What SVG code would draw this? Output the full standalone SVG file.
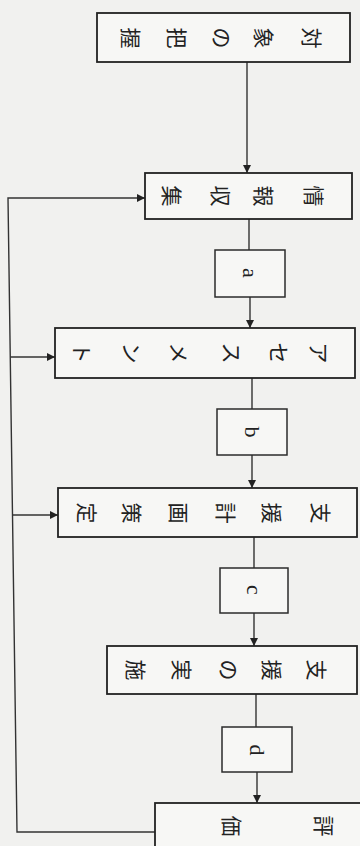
<svg xmlns="http://www.w3.org/2000/svg" width="360" height="846" viewBox="0 0 360 846">
<style>
.box{fill:#f7f7f5;stroke:#222;stroke-width:1.8}
.lbl{fill:#f7f7f5;stroke:#2b2b2b;stroke-width:1.5}
.ln{fill:none;stroke:#333;stroke-width:1.4}
.j{font-family:"Noto Sans CJK JP","Noto Sans CJK SC",sans-serif;font-size:21px;fill:#222;text-anchor:middle;dominant-baseline:central}
.l{font-family:"Liberation Serif",serif;font-size:22px;fill:#222;text-anchor:middle;dominant-baseline:central}
</style>
<defs>
<marker id="ah" viewBox="0 0 10 10" refX="10" refY="5" markerWidth="9" markerHeight="8" markerUnits="userSpaceOnUse" orient="auto">
<path d="M0,0 L10,5 L0,10 z" fill="#222"/>
</marker>
</defs>
<rect width="360" height="846" fill="#f1f1ef"/>
<g id="connectors">
<line class="ln" x1="247" y1="62" x2="247" y2="173" marker-end="url(#ah)"/>
<line class="ln" x1="249" y1="219" x2="249" y2="250"/>
<line class="ln" x1="250" y1="297" x2="250" y2="328" marker-end="url(#ah)"/>
<line class="ln" x1="252" y1="378" x2="252" y2="409"/>
<line class="ln" x1="252" y1="455" x2="252" y2="488" marker-end="url(#ah)"/>
<line class="ln" x1="254" y1="537" x2="254" y2="568"/>
<line class="ln" x1="254" y1="613" x2="254" y2="646" marker-end="url(#ah)"/>
<line class="ln" x1="256" y1="694" x2="256" y2="727"/>
<line class="ln" x1="257" y1="772" x2="257" y2="803" marker-end="url(#ah)"/>
<polyline class="ln" points="155,832 17,832 8,198 145,198" marker-end="url(#ah)"/>
<line class="ln" x1="10.3" y1="357" x2="55" y2="357" marker-end="url(#ah)"/>
<line class="ln" x1="12.5" y1="515" x2="58" y2="515" marker-end="url(#ah)"/>
</g>
<g id="n1">
<rect class="box" x="97" y="13" width="253" height="49"/>
<text class="j" x="313" y="38" transform="rotate(90 313 38)">対</text>
<text class="j" x="265" y="38" transform="rotate(90 265 38)">象</text>
<text class="j" x="223" y="38" transform="rotate(90 223 38)">の</text>
<text class="j" x="178" y="38" transform="rotate(90 178 38)">把</text>
<text class="j" x="132" y="38" transform="rotate(90 132 38)">握</text>
</g>
<g id="n2">
<rect class="box" x="145" y="173" width="207" height="46"/>
<text class="j" x="315" y="196" transform="rotate(90 315 196)">情</text>
<text class="j" x="265" y="196" transform="rotate(90 265 196)">報</text>
<text class="j" x="222" y="196" transform="rotate(90 222 196)">収</text>
<text class="j" x="173" y="196" transform="rotate(90 173 196)">集</text>
</g>
<g id="na">
<rect class="lbl" x="215" y="250" width="70" height="47"/>
<text class="l" x="250" y="273" transform="rotate(90 250 273)">a</text>
</g>
<g id="n3">
<rect class="box" x="55" y="328" width="300" height="50"/>
<text class="j" x="320" y="353" transform="rotate(90 320 353)">ア</text>
<text class="j" x="280" y="353" transform="rotate(90 280 353)">セ</text>
<text class="j" x="233" y="353" transform="rotate(90 233 353)">ス</text>
<text class="j" x="180" y="353" transform="rotate(90 180 353)">メ</text>
<text class="j" x="133" y="353" transform="rotate(90 133 353)">ン</text>
<text class="j" x="83" y="353" transform="rotate(90 83 353)">ト</text>
</g>
<g id="nb">
<rect class="lbl" x="217" y="409" width="70" height="46"/>
<text class="l" x="252" y="432" transform="rotate(90 252 432)">b</text>
</g>
<g id="n4">
<rect class="box" x="58" y="488" width="299" height="49"/>
<text class="j" x="322" y="513" transform="rotate(90 322 513)">支</text>
<text class="j" x="273" y="513" transform="rotate(90 273 513)">援</text>
<text class="j" x="227" y="513" transform="rotate(90 227 513)">計</text>
<text class="j" x="180" y="513" transform="rotate(90 180 513)">画</text>
<text class="j" x="133" y="513" transform="rotate(90 133 513)">策</text>
<text class="j" x="88" y="513" transform="rotate(90 88 513)">定</text>
</g>
<g id="nc">
<rect class="lbl" x="220" y="568" width="68" height="45"/>
<text class="l" x="254" y="590" transform="rotate(90 254 590)">c</text>
</g>
<g id="n5">
<rect class="box" x="107" y="646" width="250" height="48"/>
<text class="j" x="318" y="670" transform="rotate(90 318 670)">支</text>
<text class="j" x="273" y="670" transform="rotate(90 273 670)">援</text>
<text class="j" x="230" y="670" transform="rotate(90 230 670)">の</text>
<text class="j" x="183" y="670" transform="rotate(90 183 670)">実</text>
<text class="j" x="137" y="670" transform="rotate(90 137 670)">施</text>
</g>
<g id="nd">
<rect class="lbl" x="222" y="727" width="70" height="45"/>
<text class="l" x="257" y="750" transform="rotate(90 257 750)">d</text>
</g>
<g id="n6">
<rect class="box" x="155" y="803" width="215" height="60"/>
<text class="j" x="325" y="826" transform="rotate(90 325 826)">評</text>
<text class="j" x="233" y="826" transform="rotate(90 233 826)">価</text>
</g>
</svg>
